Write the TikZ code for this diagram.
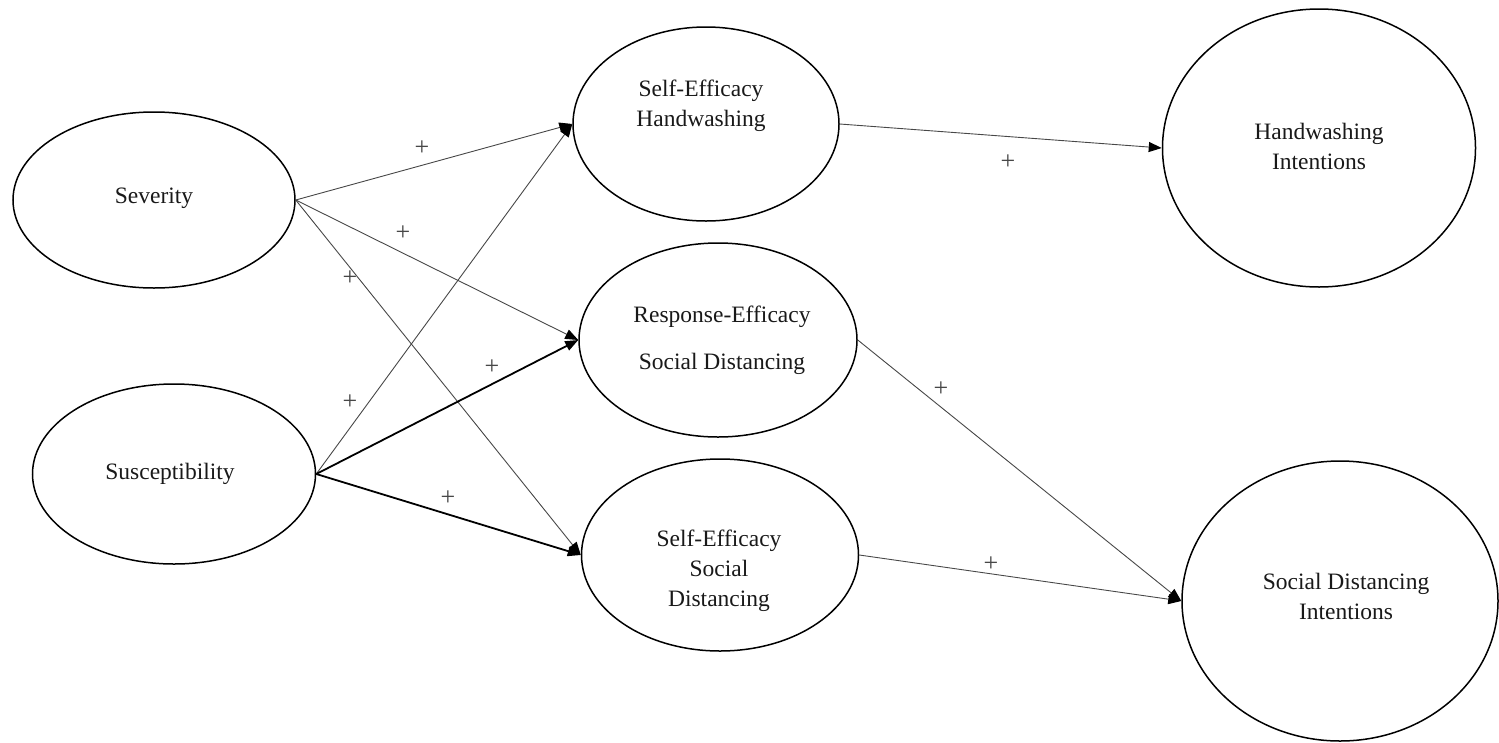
\documentclass[tikz,border=0pt]{standalone}
\usepackage{fontspec}
\setmainfont{Liberation Serif}
\usetikzlibrary{shapes.geometric,arrows.meta}
\begin{document}
\begin{tikzpicture}[x=1pt,y=-1pt,
  construct/.style={draw=black, line width=1.5pt, ellipse, inner sep=0pt},
  lbl/.style={align=center, inner sep=0pt, font=\fontsize{23.5}{30}\selectfont, text=black!90},
  pluslbl/.style={inner sep=0pt, font=\fontsize{26}{28}\selectfont, text=black!72},
  tip/.style={-{Triangle[length=13pt,width=10pt,color=black]}},
  thinpath/.style={tip, draw=black!72, line width=0.9pt},
  thickpath/.style={tip, draw=black, line width=1.8pt},
]
\useasboundingbox (0,0) rectangle (1499,742);

% constructs (ellipse outlines)
\node[construct, minimum width=282pt, minimum height=176pt] (sev) at (154,200) {};
\node[construct, minimum width=283pt, minimum height=180pt] (sus) at (174,474) {};
\node[construct, minimum width=266pt, minimum height=194pt] (seh) at (706,124) {};
\node[construct, minimum width=278pt, minimum height=194pt] (re)  at (718,340) {};
\node[construct, minimum width=277pt, minimum height=192pt] (ses) at (720,555) {};
\node[construct, minimum width=313pt, minimum height=278pt] (hwi) at (1319,148) {};
\node[construct, minimum width=316pt, minimum height=280pt] (sdi) at (1340,601) {};

% construct names
\node[lbl] (tsev) at (154,198) {Severity};
\node[lbl] (tsus) at (170,474) {Susceptibility};
\node[lbl] (tseh) at (701,106) {Self-Efficacy\\Handwashing};
\node[lbl, font=\fontsize{23.5}{47}\selectfont] (tre) at (722,340) {Response-Efficacy\\Social Distancing};
\node[lbl] (tses) at (719,571) {Self-Efficacy\\Social\\Distancing};
\node[lbl] (thwi) at (1319,146) {Handwashing\\Intentions};
\node[lbl] (tsdi) at (1346,596) {Social Distancing\\Intentions};

% paths
\draw[thinpath] (sev.east) -- (seh.west);
\draw[thinpath] (sev.east) -- (re.west);
\draw[thinpath] (sev.east) -- (ses.west);
\draw[thinpath] (sus.east) -- (seh.west);
\draw[thickpath] (sus.east) -- (re.west);
\draw[thickpath] (sus.east) -- (ses.west);
\draw[thinpath] (seh.east) -- (hwi.west);
\draw[thinpath] (re.east) -- (sdi.west);
\draw[thinpath] (ses.east) -- (sdi.west);

% signs of the paths
\node[pluslbl] (p1) at (422,148) {+};
\node[pluslbl] (p2) at (403,233) {+};
\node[pluslbl] (p3) at (350,278) {+};
\node[pluslbl] (p4) at (350,402) {+};
\node[pluslbl] (p5) at (492,367) {+};
\node[pluslbl] (p6) at (448,498) {+};
\node[pluslbl] (p7) at (1008,162) {+};
\node[pluslbl] (p8) at (941,389) {+};
\node[pluslbl] (p9) at (991,564) {+};
\end{tikzpicture}
\end{document}
